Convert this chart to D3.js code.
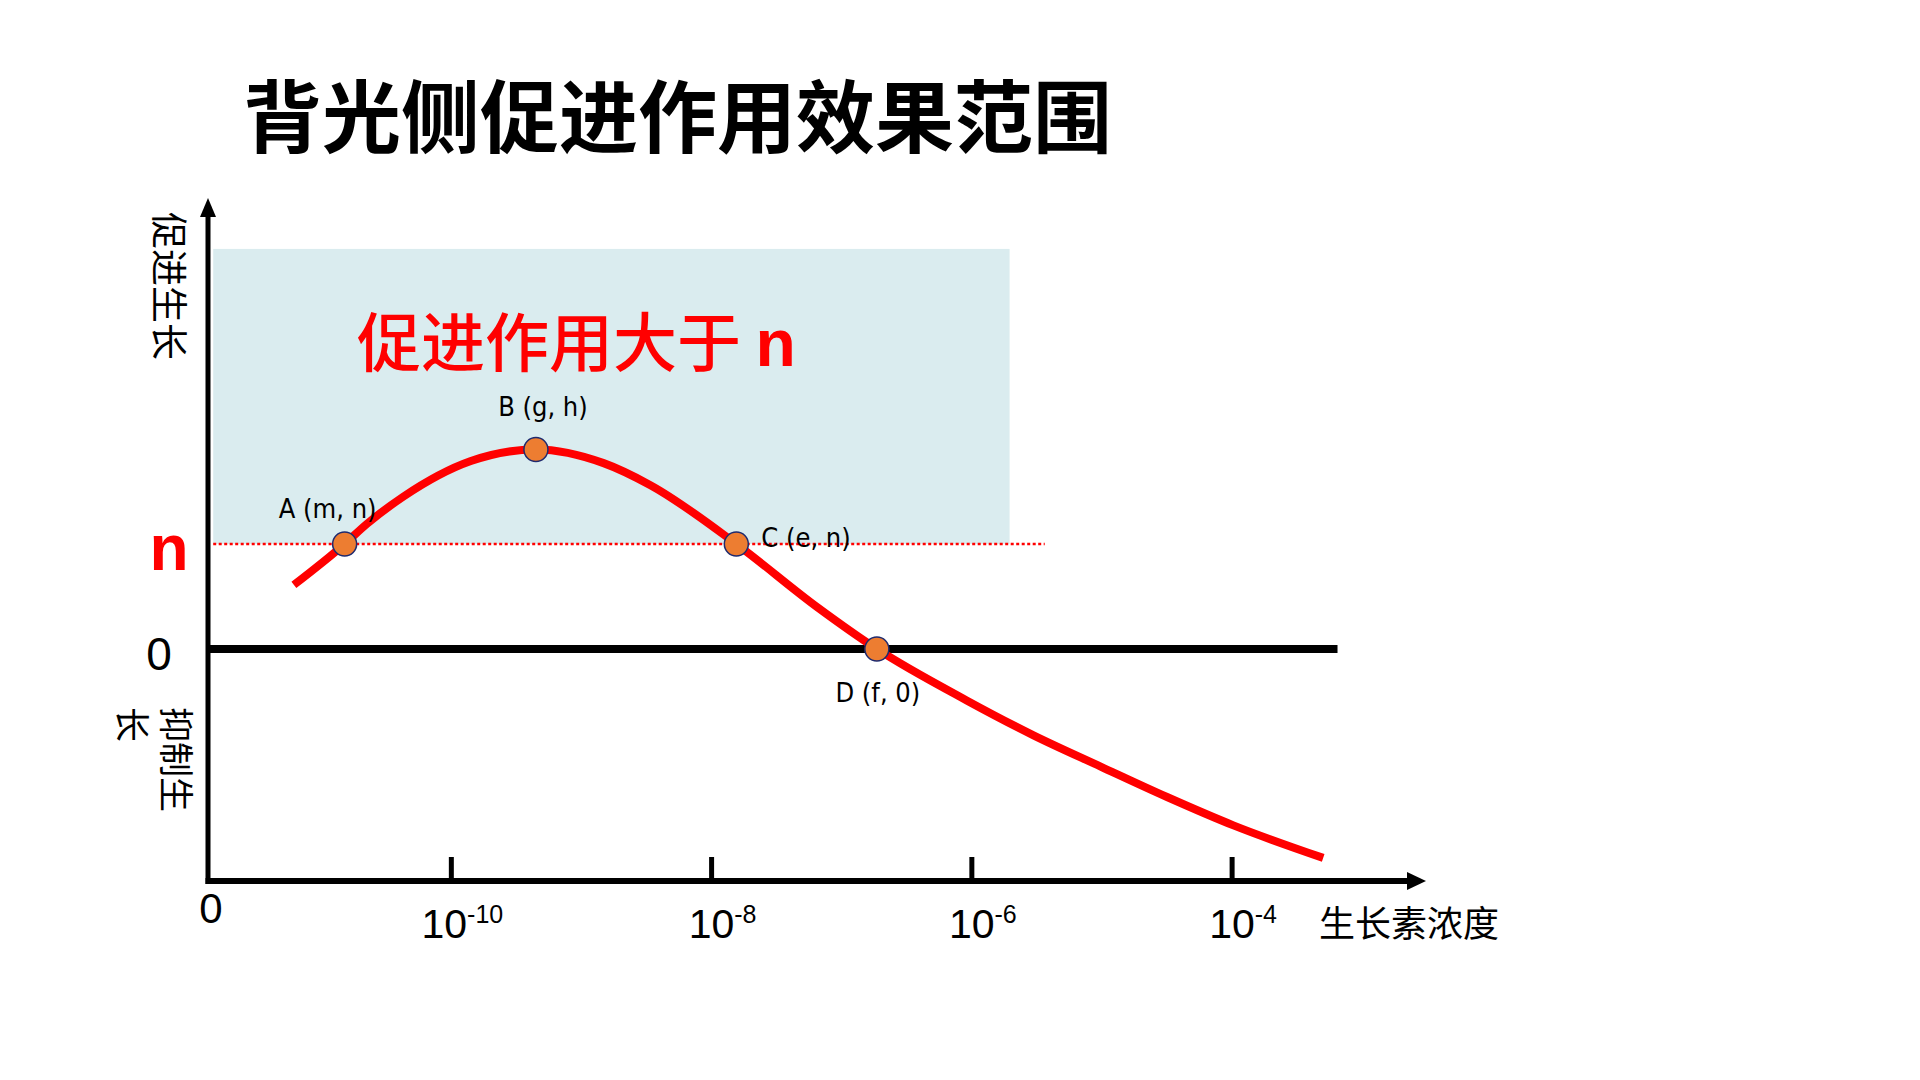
<!DOCTYPE html>
<html lang="zh">

<head>
    <meta charset="UTF-8">
    <title>背光侧促进作用效果范围</title>
    <style>
        body {
            margin: 0;
            background: #fff;
        }

        text {
            font-family: "Noto Sans CJK SC", sans-serif;
        }

        .num {
            font-family: "Liberation Sans", Arial, sans-serif;
        }

        .pt-label {
            font-family: "Liberation Sans Narrow", "DejaVu Sans Condensed", "Liberation Sans", sans-serif;
        }
    </style>
</head>

<body>
    <div id="wrapper"></div>

    <script src="https://d3js.org/d3.v7.min.js"></script>
    <script>
        // 曲线读数：x 为浓度的指数 (10^x)，y 以 n = 1 为单位
        const curveX = [-11.21, -10.82, -10.65, -10.37, -9.85, -9.35, -8.83, -8.47, -7.81, -7.19, -6.73, -6.04, -5.53, -5.01, -4.50, -3.99, -3.30];
        const curveY = [0.61, 1.00, 1.19, 1.45, 1.79, 1.90, 1.77, 1.56, 1.00, 0.40, 0.00, -0.49, -0.82, -1.12, -1.41, -1.68, -1.99];

        // 关键点
        const pointNames = ['A', 'B', 'C', 'D'];
        const pointLabels = ['A (m, n)', 'B (g, h)', 'C (e, n)', 'D (f, 0)'];
        const pointX = [-10.82, -9.35, -7.81, -6.73];
        const pointY = [1.00, 1.90, 1.00, 0.00];

        // 刻度
        const tickExp = [-10, -8, -6, -4];
        const tickSup = ['-10', '-8', '-6', '-4'];

        // 促进作用大于 n 的区域 / n 线 / 0 线
        const nLevel = 1;
        const regionX = [-11.83, -5.71];
        const regionY = [1, 3.81];
        const nLineX = [-11.83, -5.44];
        const zeroLineX = [-11.87, -3.19];

        const svgwidth = 1920,
            svgheight = 1080;

        const svg = d3.select('#wrapper').append('svg')
            .attr('width', svgwidth)
            .attr('height', svgheight);

        const xScale = d3.scaleLinear()
            .domain([-11.87, -2.51])
            .range([208, 1426]);

        const yScale = d3.scaleLinear()
            .domain([-2.21, 4.295])
            .range([881, 198]);

        const x0 = xScale.range()[0],
            x1 = xScale.range()[1],
            yBottom = yScale.range()[0],
            yTop = yScale.range()[1];

        // 标题
        svg.append('text')
            .attr('x', 243)
            .attr('y', 147)
            .attr('font-size', 79)
            .attr('font-weight', 700)
            .attr('fill', '#000')
            .text('背光侧促进作用效果范围');

        // 浅蓝区域
        svg.append('rect')
            .attr('x', xScale(regionX[0]))
            .attr('y', yScale(regionY[1]))
            .attr('width', xScale(regionX[1]) - xScale(regionX[0]))
            .attr('height', yScale(regionY[0]) - yScale(regionY[1]))
            .attr('fill', '#daecef');

        svg.append('text')
            .attr('x', 357)
            .attr('y', 366)
            .attr('font-size', 64)
            .attr('font-weight', 500)
            .attr('fill', '#ff0000')
            .text('促进作用大于 ')
            .append('tspan')
            .attr('class', 'num')
            .attr('font-weight', 700)
            .attr('font-size', 66)
            .text('n');

        // n 虚线
        svg.append('line')
            .attr('x1', xScale(nLineX[0]))
            .attr('x2', xScale(nLineX[1]))
            .attr('y1', yScale(nLevel))
            .attr('y2', yScale(nLevel))
            .attr('stroke', '#ff0000')
            .attr('stroke-width', 2.5)
            .style('stroke-dasharray', '3,2.5');

        // 0 线
        svg.append('line')
            .attr('x1', xScale(zeroLineX[0]))
            .attr('x2', xScale(zeroLineX[1]))
            .attr('y1', yScale(0))
            .attr('y2', yScale(0))
            .attr('stroke', '#000')
            .attr('stroke-width', 8);

        // y 轴
        svg.append('line')
            .attr('x1', x0).attr('x2', x0)
            .attr('y1', yBottom + 3).attr('y2', yTop + 16)
            .attr('stroke', '#000')
            .attr('stroke-width', 5);
        svg.append('path')
            .attr('d', `M${x0},${yTop} L${x0 - 8},${yTop + 19} L${x0 + 8},${yTop + 19} Z`)
            .attr('fill', '#000');

        // x 轴
        svg.append('line')
            .attr('x1', x0 - 2.5).attr('x2', x1 - 16)
            .attr('y1', yBottom).attr('y2', yBottom)
            .attr('stroke', '#000')
            .attr('stroke-width', 6);
        svg.append('path')
            .attr('d', `M${x1},${yBottom} L${x1 - 19},${yBottom - 9} L${x1 - 19},${yBottom + 9} Z`)
            .attr('fill', '#000');

        // 刻度线
        svg.selectAll('.tick-mark')
            .data(tickExp)
            .join('line')
            .attr('class', 'tick-mark')
            .attr('x1', d => xScale(d))
            .attr('x2', d => xScale(d))
            .attr('y1', yBottom)
            .attr('y2', yBottom - 24)
            .attr('stroke', '#000')
            .attr('stroke-width', 5);

        // 刻度文字 10^x
        const tickText = svg.selectAll('.tick-label')
            .data(tickExp)
            .join('text')
            .attr('class', 'tick-label num')
            .attr('x', d => xScale(d) + 11)
            .attr('y', 938)
            .attr('text-anchor', 'middle')
            .attr('font-size', 41)
            .attr('fill', '#000');
        tickText.append('tspan').text('10');
        tickText.append('tspan')
            .attr('font-size', 25)
            .attr('dy', -15)
            .text((d, i) => tickSup[i]);

        // 原点 0
        svg.append('text')
            .attr('class', 'num')
            .attr('x', x0 + 3)
            .attr('y', 923)
            .attr('text-anchor', 'middle')
            .attr('font-size', 42)
            .text('0');

        svg.append('text')
            .attr('x', 1319)
            .attr('y', 937)
            .attr('font-size', 36)
            .text('生长素浓度');

        // y 轴文字
        svg.append('text')
            .attr('class', 'num')
            .attr('x', 169)
            .attr('y', yScale(nLevel) + 26)
            .attr('text-anchor', 'middle')
            .attr('font-size', 64)
            .attr('font-weight', 700)
            .attr('fill', '#ff0000')
            .text('n');

        svg.append('text')
            .attr('class', 'num')
            .attr('x', 159)
            .attr('y', yScale(0) + 21)
            .attr('text-anchor', 'middle')
            .attr('font-size', 46)
            .text('0');

        svg.append('text')
            .attr('transform', 'translate(171,212) rotate(90)')
            .attr('dominant-baseline', 'central')
            .attr('font-size', 37)
            .text('促进生长');

        const inhibit = svg.append('text')
            .attr('transform', 'translate(179,707) rotate(90)')
            .attr('dominant-baseline', 'central')
            .attr('font-size', 35);
        inhibit.append('tspan').attr('x', 0).attr('y', 0).text('抑制生');
        inhibit.append('tspan').attr('x', 0).attr('y', 44).text('长');

        // 曲线
        const curvePoints = curveX.map((d, i) => [d, curveY[i]]);
        const line = d3.line()
            .x(d => xScale(d[0]))
            .y(d => yScale(d[1]))
            .curve(d3.curveMonotoneX);

        svg.append('path')
            .attr('d', line(curvePoints))
            .attr('fill', 'none')
            .attr('stroke', '#ff0000')
            .attr('stroke-width', 8);

        // 关键点
        svg.selectAll('.key-point')
            .data(pointNames)
            .join('circle')
            .attr('class', 'key-point')
            .attr('cx', (d, i) => xScale(pointX[i]))
            .attr('cy', (d, i) => yScale(pointY[i]))
            .attr('r', 12)
            .attr('fill', '#ed7d31')
            .attr('stroke', '#1f2a6e')
            .attr('stroke-width', 1.5);

        // 关键点文字位置（相对点的偏移）
        const labelDx = [-17, 7, 25, 1];
        const labelDy = [-26, -33, 3, 53];
        const labelAnchor = ['middle', 'middle', 'start', 'middle'];

        svg.selectAll('.pt-label')
            .data(pointLabels)
            .join('text')
            .attr('class', 'pt-label')
            .attr('x', (d, i) => xScale(pointX[i]) + labelDx[i])
            .attr('y', (d, i) => yScale(pointY[i]) + labelDy[i])
            .attr('text-anchor', (d, i) => labelAnchor[i])
            .attr('font-size', 27)
            .attr('fill', '#000')
            .text(d => d);
    </script>
</body>

</html>
